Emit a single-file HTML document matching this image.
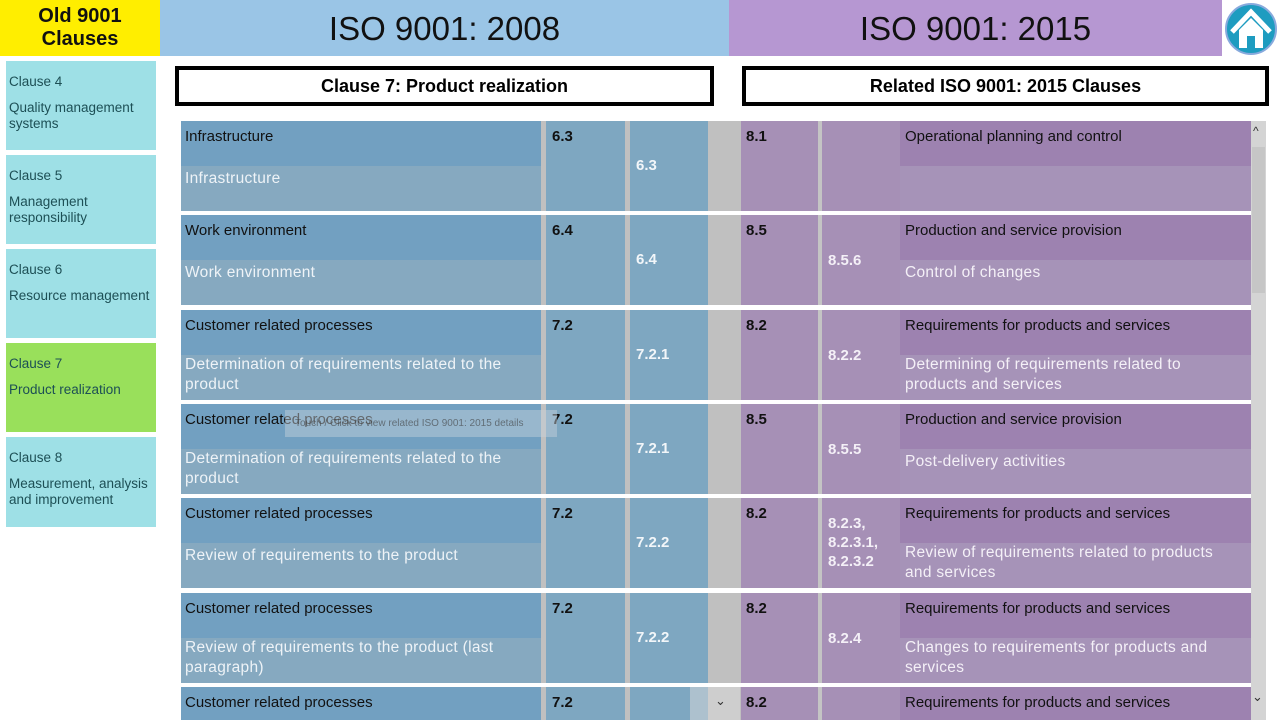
<!DOCTYPE html>
<html style="width:1280px;height:720px;overflow:hidden"><head><meta charset="utf-8">
<style>
*{margin:0;padding:0;box-sizing:border-box}
body{width:1280px;height:720px;overflow:hidden;background:#fff;font-family:"Liberation Sans",sans-serif;position:relative}
.a{position:absolute}
.side{position:absolute;left:6px;width:150px;background:#9ee0e6;color:#1d4f55;font-size:13.5px;padding:13px 3px 0 3px;line-height:16px}
.side .t{margin-bottom:10px}
.row{position:absolute;left:181px;width:1070px;height:90px}
.row div{position:absolute}
.tt{left:0;top:0;width:360px;height:45px;background:#72a0c1;color:#111;font-size:15px;padding:7px 4px}
.td{left:0;top:45px;width:360px;height:45px;background:#86a9c0;color:#eef3f7;font-size:15.5px;padding:0 4px;line-height:20px;letter-spacing:0.3px}
.g1{left:360px;top:0;width:5px;height:90px;background:#c0c0c0}
.c1{left:365px;top:0;width:79px;height:90px;background:#7ea7c1;color:#111;font-weight:bold;font-size:15px;padding:7px 6px}
.g2{left:444px;top:0;width:5px;height:90px;background:#c0c0c0}
.c2{left:449px;top:0;width:78px;height:90px;background:#7ea7c1;color:#f2f6f9;font-weight:bold;font-size:15px;padding:36px 6px 0}
.g3{left:527px;top:0;width:33px;height:90px;background:#c0c0c0}
.p1{left:560px;top:0;width:77px;height:90px;background:#a690b6;color:#111;font-weight:bold;font-size:15px;padding:7px 5px}
.g4{left:637px;top:0;width:4px;height:90px;background:#c4c4c4}
.p2{left:641px;top:0;width:78px;height:90px;background:#a690b6;color:#f4f0f7;font-weight:bold;font-size:15px;padding:36px 6px 0;line-height:20px}
.pt{left:719px;top:0;width:351px;height:45px;background:#9d82b0;color:#111;font-size:15px;padding:7px 5px}
.pd{left:719px;top:45px;width:351px;height:45px;background:#a693b8;color:#f4f0f7;font-size:15.5px;padding:0 5px;line-height:20px;letter-spacing:0.3px}
.last div{height:33px !important}
</style></head><body>
<div class="a" style="left:0;top:0;width:160px;height:56px;background:#ffee00;color:#111;font-weight:bold;font-size:20px;text-align:center;line-height:23px;padding-top:5px">Old 9001<br>Clauses</div>
<div class="a" style="left:160px;top:0;width:569px;height:56px;background:#9ac5e6;color:#111;font-size:33px;text-align:center;line-height:58px">ISO 9001: 2008</div>
<div class="a" style="left:729px;top:0;width:493px;height:56px;background:#b697d2;color:#111;font-size:33px;text-align:center;line-height:58px">ISO 9001: 2015</div>
<svg class="a" style="left:1224px;top:2px" width="54" height="54" viewBox="0 0 54 54">
<circle cx="27" cy="27" r="25" fill="#1e9cc0" stroke="#8ad" stroke-width="2"/>
<path d="M8 30 L27 10 L46 30" fill="none" stroke="#fff" stroke-width="5"/>
<path d="M15 28 L27 16 L39 28 V46 H31 V34 H23 V46 H15Z" fill="#fff"/>
</svg>
<div class="a" style="left:175px;top:66px;width:539px;height:40px;border:4px solid #000;text-align:center;font-weight:bold;font-size:18px;line-height:33px">Clause 7: Product realization</div>
<div class="a" style="left:742px;top:66px;width:527px;height:40px;border:4px solid #000;text-align:center;font-weight:bold;font-size:18px;line-height:33px">Related ISO 9001: 2015 Clauses</div>

<div class="side" style="top:61px;height:89px"><div class="t">Clause 4</div>Quality management systems</div>
<div class="side" style="top:155px;height:89px"><div class="t">Clause 5</div>Management responsibility</div>
<div class="side" style="top:249px;height:89px"><div class="t">Clause 6</div>Resource management</div>
<div class="side" style="top:343px;height:89px;background:#99e05b"><div class="t">Clause 7</div>Product realization</div>
<div class="side" style="top:437px;height:90px"><div class="t">Clause 8</div>Measurement, analysis and improvement</div>

<div class="a" style="left:1251px;top:121px;width:15px;height:599px;background:#d4d4d4"></div>
<div class="a" style="left:1252px;top:147px;width:13px;height:146px;background:#c6c6c6"></div>
<div class="a" style="left:1253px;top:124px;font-size:12px;line-height:14px;color:#333">^</div>

<div class="row" style="top:121px"><div class="tt">Infrastructure</div><div class="td" style="padding-top:3px">Infrastructure</div><div class="g1"></div><div class="c1">6.3</div><div class="g2"></div><div class="c2">6.3</div><div class="g3"></div><div class="p1">8.1</div><div class="g4"></div><div class="p2"></div><div class="pt">Operational planning and control</div><div class="pd"></div></div>
<div class="row" style="top:215px"><div class="tt">Work environment</div><div class="td" style="padding-top:3px">Work environment</div><div class="g1"></div><div class="c1">6.4</div><div class="g2"></div><div class="c2">6.4</div><div class="g3"></div><div class="p1">8.5</div><div class="g4"></div><div class="p2">8.5.6</div><div class="pt">Production and service provision</div><div class="pd" style="padding-top:3px">Control of changes</div></div>
<div class="row" style="top:310px"><div class="tt">Customer related processes</div><div class="td">Determination of requirements related to the product</div><div class="g1"></div><div class="c1">7.2</div><div class="g2"></div><div class="c2">7.2.1</div><div class="g3"></div><div class="p1">8.2</div><div class="g4"></div><div class="p2">8.2.2</div><div class="pt">Requirements for products and services</div><div class="pd">Determining of requirements related to products and services</div></div>
<div class="row" style="top:404px"><div class="tt">Customer related processes</div><div class="td">Determination of requirements related to the product</div><div class="g1"></div><div class="c1">7.2</div><div class="g2"></div><div class="c2">7.2.1</div><div class="g3"></div><div class="p1">8.5</div><div class="g4"></div><div class="p2">8.5.5</div><div class="pt">Production and service provision</div><div class="pd" style="padding-top:3px">Post-delivery activities</div>
<div style="left:104px;top:6px;width:272px;height:27px;background:rgba(200,210,220,0.45);color:rgba(60,60,60,0.6);font-size:10px;padding:8px 0 0 10px">Touch / Click to view related ISO 9001: 2015 details</div></div>
<div class="row" style="top:498px"><div class="tt">Customer related processes</div><div class="td" style="padding-top:3px">Review of requirements to the product</div><div class="g1"></div><div class="c1">7.2</div><div class="g2"></div><div class="c2">7.2.2</div><div class="g3"></div><div class="p1">8.2</div><div class="g4"></div><div class="p2" style="padding-top:16px;line-height:19px">8.2.3,<br>8.2.3.1,<br>8.2.3.2</div><div class="pt">Requirements for products and services</div><div class="pd">Review of requirements related to products<br>and services</div></div>
<div class="row" style="top:593px"><div class="tt">Customer related processes</div><div class="td">Review of requirements to the product (last paragraph)</div><div class="g1"></div><div class="c1">7.2</div><div class="g2"></div><div class="c2">7.2.2</div><div class="g3"></div><div class="p1">8.2</div><div class="g4"></div><div class="p2">8.2.4</div><div class="pt">Requirements for products and services</div><div class="pd">Changes to requirements for products and services</div></div>
<div class="row last" style="top:687px;height:33px;overflow:hidden"><div class="tt">Customer related processes</div><div class="g1"></div><div class="c1">7.2</div><div class="g2"></div><div class="c2"></div><div class="g3"></div><div class="p1">8.2</div><div class="g4"></div><div class="p2"></div><div class="pt">Requirements for products and services</div>
<div style="left:509px;top:0;width:50px;background:rgba(220,220,220,0.5);color:#333;font-size:13px;padding:6px 0 0 25px">&#8964;</div></div>
<div class="a" style="left:1252px;top:690px;font-size:13px;line-height:14px;color:#333">&#8964;</div>
</body></html>
